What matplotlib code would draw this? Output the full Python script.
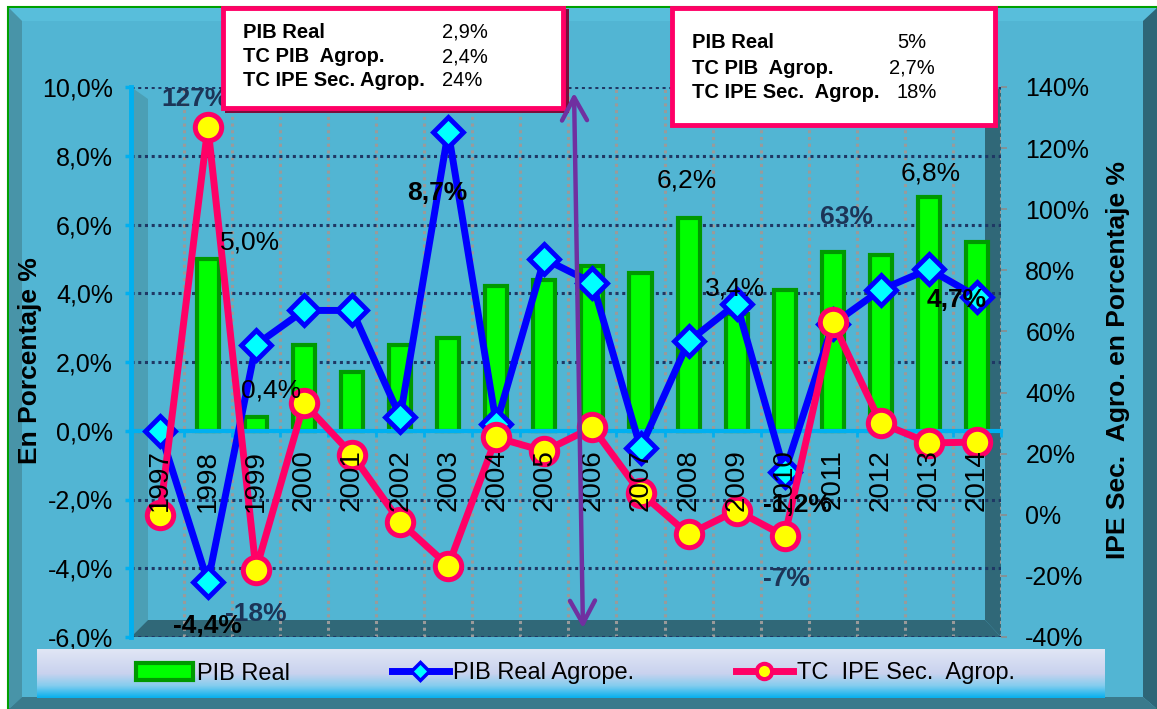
import numpy as np
import matplotlib
matplotlib.use("Agg")
import matplotlib.pyplot as plt
from matplotlib.patches import Rectangle, Polygon, FancyArrowPatch, ArrowStyle
from matplotlib.lines import Line2D
from matplotlib.colors import LinearSegmentedColormap

plt.rcParams['font.family'] = ['Liberation Sans', 'DejaVu Sans']

# --- data ---------------------------------------------------------------
years = [1997, 1998, 1999, 2000, 2001, 2002, 2003, 2004, 2005, 2006,
         2007, 2008, 2009, 2010, 2011, 2012, 2013, 2014]
pib_real = [None, 5.0, 0.4, 2.5, 1.7, 2.5, 2.7, 4.2, 4.4, 4.8,
            4.6, 6.2, 3.4, 4.1, 5.2, 5.1, 6.8, 5.5]
pib_agro = [0.0, -4.4, 2.5, 3.5, 3.5, 0.4, 8.7, 0.2, 5.0, 4.3,
            -0.5, 2.6, 3.7, -1.2, 3.1, 4.1, 4.7, 3.9]
tc_ipe = [0.0, 127, -18, 36.5, 19.7, -2.4, -16.7, 25.3, 20.8, 28.6,
          7.2, -6.4, 1.4, -7.0, 63, 30, 23.5, 23.8]

left_ticks = [-6, -4, -2, 0, 2, 4, 6, 8, 10]
right_ticks = [-40, -20, 0, 20, 40, 60, 80, 100, 120, 140]

box1_names = ['PIB Real', 'TC PIB  Agrop.', 'TC IPE Sec. Agrop.']
box1_values = ['2,9%', '2,4%', '24%']
box2_names = ['PIB Real', 'TC PIB  Agrop.', 'TC IPE Sec.  Agrop.']
box2_values = ['5%', '2,7%', '18%']

# labelled points: (index, text offset in points)
bar_labels = [(1, (30, 12)), (2, (11, 19)), (11, (-1, 27)), (12, (-1, 18)), (16, (1, 17))]
agro_labels = [(1, (0, -32)), (6, (-8, -44)), (13, (9, -24)), (16, (20, -22))]
ipe_labels = [(1, (-9, 20)), (2, (0, -32)), (13, (1, -31)), (14, (10, 76))]

W, H = 1157, 709
BG = '#52b5d3'
NAVY = '#1c3557'


def fx(x):
    return x / W


def fy(y):
    return 1 - y / H


def pct(v, dec=1):
    return ('%.*f%%' % (dec, v)).replace('.', ',')


def add_fig_poly(fig, pts, color, z):
    fig.patches.append(Polygon([(fx(x), fy(y)) for x, y in pts], closed=True,
                               transform=fig.transFigure, facecolor=color,
                               edgecolor='none', zorder=z))


def main():
    fig = plt.figure(figsize=(W / 100, H / 100), dpi=100, facecolor='white')

    # chart frame with bevel
    fig.patches.append(Rectangle((fx(8), fy(709)), (W - 8) / W, 702 / H,
                                 transform=fig.transFigure, facecolor=BG,
                                 edgecolor='#00a000', linewidth=1.5, zorder=-10))
    add_fig_poly(fig, [(9, 8), (1157, 8), (1143, 21), (22, 21)], '#58bedb', -9)
    add_fig_poly(fig, [(9, 8), (22, 21), (22, 697), (9, 709)], '#4894a8', -9)
    add_fig_poly(fig, [(1143, 21), (1157, 8), (1157, 709), (1143, 697)], '#2e6677', -9)
    add_fig_poly(fig, [(22, 697), (1143, 697), (1157, 709), (9, 709)], '#3a7a8c', -9)

    ax = fig.add_axes([fx(131), fy(637), 870 / W, 550 / H])
    ax.set_facecolor('none')
    ax.set_xlim(-0.6, 17.5)
    ax.set_ylim(-6, 10)

    # 3D walls / floor of the plot area
    def apt(px, py):
        return ((px - 131) / 870, (637 - py) / 550)
    for pts, col in [([(131, 87), (148, 99), (148, 620), (131, 637)], '#4b9fb5'),
                     ([(131, 637), (148, 620), (985, 620), (1001, 637)], '#306878'),
                     ([(985, 99), (1001, 87), (1001, 637), (985, 620)], '#306878')]:
        ax.add_patch(Polygon([apt(*p) for p in pts], closed=True, transform=ax.transAxes,
                             facecolor=col, edgecolor='none', zorder=0.1))

    x = np.arange(len(years))
    xb = [i for i, v in enumerate(pib_real) if v is not None]
    hb = [pib_real[i] for i in xb]
    bars = ax.bar(xb, hb, width=0.46, color='#00ff00', edgecolor='#009900',
                  linewidth=3, zorder=2)
    ax.plot(x, pib_agro, color='#0000ff', lw=5, marker='D', ms=15, mfc='#00ffff',
            mec='#0000ff', mew=3.5, zorder=3)

    ax.set_axisbelow(True)
    ax.set_yticks(left_ticks)
    ax.set_yticklabels([pct(v) for v in left_ticks])
    ax.set_xticks(np.arange(0.5, 17.6, 1))
    ax.set_xticklabels([])
    ax.yaxis.grid(True, color='#1f3864', linestyle=(0, (1, 1.2)), linewidth=2.2)
    ax.xaxis.grid(True, color='#9a9a9a', linestyle=(0, (1, 1.2)), linewidth=2.2)
    for s in ['top', 'right']:
        ax.spines[s].set_visible(False)
    ax.spines['bottom'].set_position(('data', 0))
    ax.spines['bottom'].set_color('#00b0f0')
    ax.spines['bottom'].set_linewidth(3)
    ax.spines['left'].set_color('#00b0f0')
    ax.spines['left'].set_linewidth(3.5)
    ax.tick_params(axis='y', color='#00b0f0', labelcolor='black', length=4,
                   width=2.5, pad=9, labelsize=18)
    ax.tick_params(axis='x', color='#00b0f0', length=4, width=2, direction='out')

    ax2 = ax.twinx()
    ax2.set_ylim(-40, 140)
    ax2.set_yticks(right_ticks)
    ax2.set_yticklabels(['%d%%' % v for v in right_ticks])
    for s in ax2.spines.values():
        s.set_visible(False)
    ax2.tick_params(axis='y', color='#8c8c8c', length=4.5, width=1.2, pad=13,
                    labelsize=18)
    ax2.plot(x, tc_ipe, color='#ff0066', lw=5, marker='o', ms=19, mfc='#ffff00',
             mec='#ff0066', mew=3.6, zorder=3)

    # category labels on top of the lines
    for i, yr in enumerate(years):
        ax2.annotate(str(yr), (i, 0), xycoords=ax.transData, xytext=(0, -13.5),
                     textcoords='offset points', rotation=90, ha='center', va='top',
                     fontsize=20, zorder=10)

    for i, off in bar_labels:
        ax2.annotate(pct(pib_real[i]), (i, pib_real[i]), xycoords=ax.transData,
                     xytext=off, textcoords='offset points', ha='center',
                     va='center', fontsize=19, zorder=10)
    for i, off in agro_labels:
        ax2.annotate(pct(pib_agro[i]), (i, pib_agro[i]), xycoords=ax.transData,
                     xytext=off, textcoords='offset points', ha='center',
                     va='center', fontsize=19, fontweight='bold', zorder=10)
    for i, off in ipe_labels:
        ax2.annotate('%d%%' % round(tc_ipe[i]), (i, tc_ipe[i]), xytext=off,
                     textcoords='offset points', ha='center', va='center',
                     fontsize=19, fontweight='bold', color=NAVY, zorder=10)

    fig.text(fx(30), fy(361), 'En Porcentaje %', rotation=90, fontsize=19,
             fontweight='bold', ha='center', va='center')
    fig.text(fx(1118), fy(360), 'IPE Sec.  Agro. en Porcentaje %', rotation=90,
             fontsize=19, fontweight='bold', ha='center', va='center')

    # legend on a gradient strip
    ax_leg = fig.add_axes([fx(37), fy(698), 1068 / W, 49 / H], zorder=5)
    cmap = LinearSegmentedColormap.from_list('leg', [(0, '#e1e6f5'), (0.5, '#c9d2ee'),
                                                     (0.75, '#84cdee'), (1, '#08b0ee')])
    ax_leg.imshow(np.linspace(0, 1, 100).reshape(-1, 1), aspect='auto', cmap=cmap,
                  extent=[0, 1, 0, 1])
    ax_leg.axis('off')
    h_blue = Line2D([], [], color='#0000ff', lw=5, marker='D', ms=9, mfc='#00ffff',
                    mec='#0000ff', mew=2.5)
    h_red = Line2D([], [], color='#ff0066', lw=5, marker='o', ms=11, mfc='#ffff00',
                   mec='#ff0066', mew=3)
    ax_leg.legend([bars, h_blue, h_red], ['PIB Real', 'PIB Real Agrope.', 'TC  IPE Sec.  Agrop.'],
                  loc='center left', bbox_to_anchor=(0.0927, 0.5), ncol=3,
                  frameon=False, fontsize=17, handlelength=2.4, handletextpad=0.2,
                  columnspacing=4.3, borderpad=0, borderaxespad=0)

    # info boxes
    fig.patches.append(Rectangle((fx(225), fy(113)), 344 / W, 104 / H,
                                 transform=fig.transFigure, facecolor='#7a0f3c',
                                 edgecolor='none', zorder=6))
    fig.patches.append(Rectangle((fx(222.5), fy(107.5)), 340 / W, 100 / H,
                                 transform=fig.transFigure, facecolor='white',
                                 edgecolor='#ff0066', linewidth=3.5, zorder=7))
    fig.patches.append(Rectangle((fx(671.5), fy(124.5)), 323 / W, 117 / H,
                                 transform=fig.transFigure, facecolor='white',
                                 edgecolor='#ff0066', linewidth=3.5, zorder=7))
    for k, (n, v) in enumerate(zip(box1_names, box1_values)):
        yy = [32, 57, 80][k]
        fig.text(fx(243), fy(yy), n, fontsize=14.5, fontweight='bold', va='center', zorder=8)
        fig.text(fx(442), fy(yy), v, fontsize=14.5, va='center', zorder=8)
    for k, (n, v) in enumerate(zip(box2_names, box2_values)):
        yy = [43, 68, 92][k]
        fig.text(fx(692), fy(yy), n, fontsize=14.5, fontweight='bold', va='center', zorder=8)
        fig.text(fx([897, 889, 897][k]), fy(yy), v, fontsize=14.5, va='center', zorder=8)

    fig.patches.append(FancyArrowPatch((fx(574), fy(90)), (fx(583), fy(631)),
                                       transform=fig.transFigure,
                                       arrowstyle=ArrowStyle('<->', head_length=0.55, head_width=0.3),
                                       mutation_scale=30, color='#7030a0', lw=3.2, zorder=9))

    fig.savefig('out.png', dpi=100, facecolor='white')


if __name__ == "__main__":
    main()
